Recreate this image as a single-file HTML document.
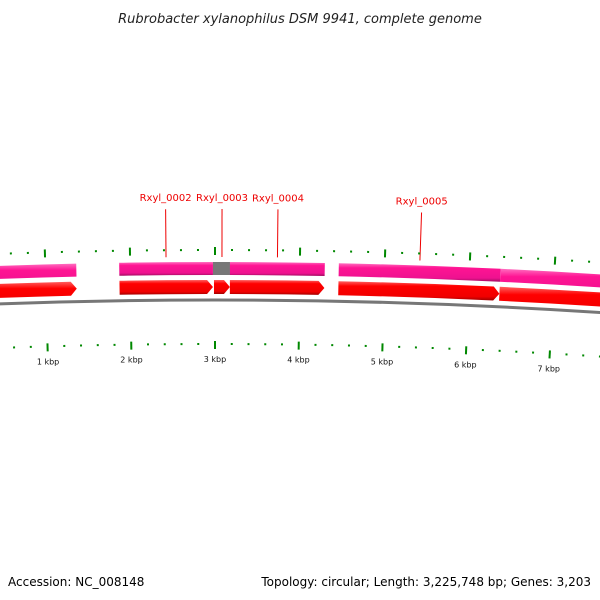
<!DOCTYPE html>
<html><head><meta charset="utf-8"><style>
body{margin:0;background:#fff}
svg{display:block;font-family:"DejaVu Sans","Liberation Sans",sans-serif}
</style></head><body>
<svg id="c" width="600" height="600" viewBox="0 0 600 600">
<defs>
<linearGradient id="pg" x1="0" y1="0" x2="0" y2="1"><stop offset="0" stop-color="#ff6ec0"/><stop offset="0.25" stop-color="#ff1493"/><stop offset="0.8" stop-color="#ee1290"/><stop offset="1" stop-color="#a00c60"/></linearGradient>
<linearGradient id="rg" x1="0" y1="0" x2="0" y2="1"><stop offset="0" stop-color="#ff6060"/><stop offset="0.25" stop-color="#ff0000"/><stop offset="0.8" stop-color="#f00000"/><stop offset="1" stop-color="#a00000"/></linearGradient>
</defs>
<text x="300" y="23" text-anchor="middle" font-style="italic" font-size="13" fill="#222">Rubrobacter xylanophilus DSM 9941, complete genome</text>
<text x="8" y="586" font-size="12" fill="#000">Accession: NC_008148</text>
<text x="591" y="586" text-anchor="end" font-size="12" fill="#000">Topology: circular; Length: 3,225,748 bp; Genes: 3,203</text>
<g id="g"></g>
</svg>
<script>
const geneNames=["","Rxyl_0002","Rxyl_0003","Rxyl_0004","Rxyl_0005",""];
const geneStarts=[-2000,1871,2988,3176,4459,6365];
const geneEnds=[1365,2976,3176,4294,6365,9500];
const cdsGrayStart=2976, cdsGrayEnd=3176;
const kbpTicks=[0,1,2,3,4,5,6,7,8];
const tickLabels=["0 kbp","1 kbp","2 kbp","3 kbp","4 kbp","5 kbp","6 kbp","7 kbp","8 kbp"];
const NS="http://www.w3.org/2000/svg";
const g=document.getElementById('g');
const CX=215, CY=6255, R0=6000;
const ang=b=>(b-3000)*85/R0/1000;
function pt(b,r){const a=ang(b);return [CX+r*Math.sin(a),CY-r*Math.cos(a)];}
function mk(tag,attrs){const e=document.createElementNS(NS,tag);for(const k in attrs)e.setAttribute(k,attrs[k]);g.appendChild(e);return e;}
function arc(b1,b2,r){const p=pt(b2,r);return `A${r},${r} 0 0 1 ${p[0]},${p[1]}`;}
function band(b1,b2,ro,ri){const a=pt(b1,ro),d=pt(b2,ri);return `M${a[0]},${a[1]} ${arc(b1,b2,ro)} L${d[0]},${d[1]} A${ri},${ri} 0 0 0 ${pt(b1,ri).join(',')} Z`;}
// backbone
let bb=mk('path',{d:`M${pt(-2000,5955).join(',')} ${arc(-2000,9500,5955)}`,stroke:'#777',fill:'none','stroke-width':3});


// genes
for(let i=0;i<geneStarts.length;i++){
  const s=geneStarts[i],e=geneEnds[i];
  let cds=mk('path',{d:band(s,e,5993,5980),fill:'url(#pg)'});
  
  
  const tipB=e-6000/85*0+0; const back=e-70;
  const a=pt(s,5975),b=pt(back,5975),t=pt(e,5968),c=pt(back,5961),d=pt(s,5961);
  let ar=mk('path',{d:`M${a} ${arc(s,back,5975)} L${t} L${c} A5961,5961 0 0 0 ${d} Z`,fill:'url(#rg)'});
  
  
  if(geneNames[i]){
    const m=(s+e)/2,p1=pt(m,5998),p2=pt(m,6046),p3=pt(m,6050);
    let ln=mk('line',{x1:p1[0],y1:p1[1],x2:p2[0],y2:p2[1],stroke:'#e00','stroke-width':1});
    
    
    let tx=mk('text',{x:p3[0],y:p3[1]-4,'text-anchor':'middle','font-size':10,fill:'#e00'});
    tx.textContent=geneNames[i];
    
    
  }
}
let gr=mk('path',{d:band(cdsGrayStart,cdsGrayEnd,5993,5980),fill:'#777'});


// ticks
for(let b=-2000;b<=9000;b+=200){
  const major=b%1000===0;
  [[6004,6],[5910,-6]].forEach(([r,h])=>{
    const p1=pt(b,major?r-Math.abs(h)/2-1:r),p2=pt(b,major?r+Math.abs(h)/2+1:r+2);
    let t=mk('line',{x1:p1[0],y1:p1[1],x2:p2[0],y2:p2[1],stroke:'#080','stroke-width':2});
    
    
  });
}
kbpTicks.forEach((k,i)=>{
  const p=pt(k*1000,5893);
  let t=mk('text',{x:p[0],y:p[1],'text-anchor':'middle','font-size':8,fill:'#111'});
  t.textContent=tickLabels[i];
  
  
});
</script>
</body></html>
